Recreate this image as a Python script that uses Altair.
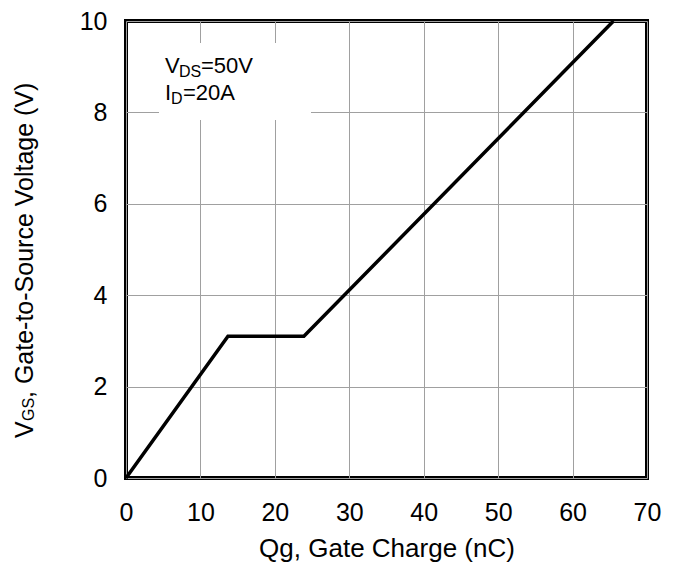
import altair as alt
import pandas as pd

# ---- data ----
qg_nc = [0.0, 13.7, 23.9, 65.5]
vgs_v = [0.0, 3.1, 3.1, 10.0]

x_ticks = [0, 10, 20, 30, 40, 50, 60, 70]
y_ticks = [0, 2, 4, 6, 8, 10]

x_title = "Qg, Gate Charge (nC)"
y_title_parts = ["V", "GS", ", Gate-to-Source Voltage (V)"]
note_line1 = ["V", "DS", "=50V"]
note_line2 = ["I", "D", "=20A"]

FONT = "Liberation Sans"
W, H = 521, 457

df = pd.DataFrame({"qg": qg_nc, "vgs": vgs_v})
one = alt.Data(values=[{}])

x_scale = alt.Scale(domain=[0, 70], nice=False)
y_scale = alt.Scale(domain=[0, 10], nice=False)

line = alt.Chart(df).mark_line(color="black", strokeWidth=3.5).encode(
    x=alt.X("qg:Q", scale=x_scale,
            axis=alt.Axis(values=x_ticks, title=x_title, grid=True, ticks=False,
                          domain=False, labelFontSize=25, labelPadding=22,
                          labelFlush=False,
                          titleFontSize=26, titleFontWeight="normal",
                          titlePadding=10, labelFont=FONT, titleFont=FONT,
                          labelColor="black", titleColor="black")),
    y=alt.Y("vgs:Q", scale=y_scale,
            axis=alt.Axis(values=y_ticks, title=None, grid=True, ticks=False,
                          domain=False, labelFontSize=25, labelPadding=19,
                          labelFlush=False,
                          labelFont=FONT, labelColor="black")),
)

box = alt.Chart(one).mark_rect(color="white").encode(
    x=alt.value(33), x2=alt.value(185), y=alt.value(22), y2=alt.value(99)
)

def txt(s, x, y, size, angle=0):
    kw = dict(text=s, font=FONT, fontSize=size, color="black",
              align="left", baseline="alphabetic")
    if angle:
        kw["angle"] = angle
    return alt.Chart(one).mark_text(**kw).encode(x=alt.value(x), y=alt.value(y))

notes = [
    txt(note_line1[0], 39, 52, 22),
    txt(note_line1[1], 53, 56, 16),
    txt(note_line1[2], 75, 52, 22),
    txt(note_line2[0], 39, 79, 22),
    txt(note_line2[1], 45, 83, 16),
    txt(note_line2[2], 57, 79, 22),
]

ytitle = [
    txt(y_title_parts[0], -93, 417, 25, 270),
    txt(y_title_parts[1], -92, 400, 16, 270),
    txt(y_title_parts[2], -93, 377, 25, 270),
]

chart = alt.layer(box, line, *notes, *ytitle).properties(
    width=W, height=H,
    autosize=alt.AutoSizeParams(type="none"),
    padding={"left": 118, "top": 13, "right": 20, "bottom": 88},
).configure_view(
    stroke="black", strokeWidth=4
).configure_axis(
    gridColor="#a0a0a0", gridWidth=1, gridOpacity=1
)

chart.save("out.html", embed_options={"renderer": "svg", "actions": False})
